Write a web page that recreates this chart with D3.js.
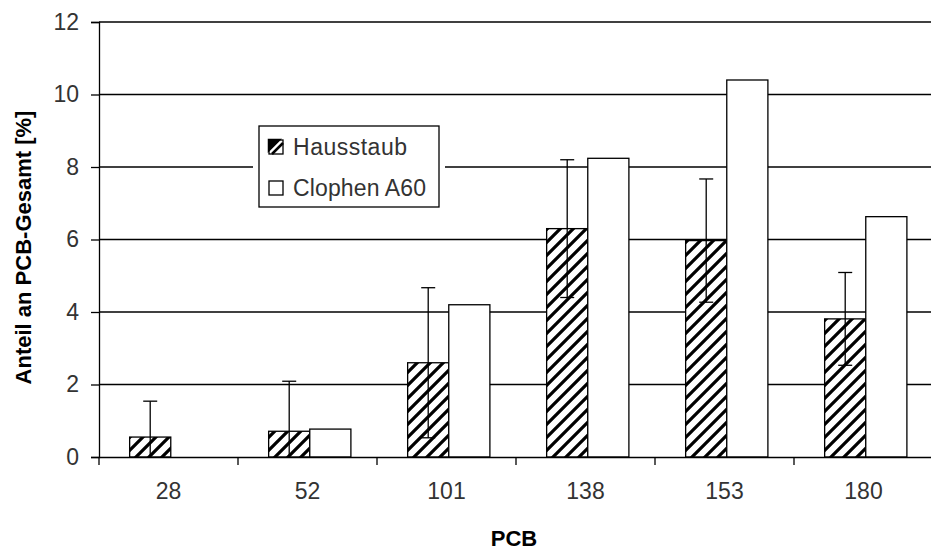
<!DOCTYPE html>
<html>
<head>
<meta charset="utf-8">
<script src="https://cdn.jsdelivr.net/npm/d3@7"></script>
<style>
body { margin: 0; background: #fff; }
svg { display: block; font-family: "Liberation Sans", Arial, sans-serif; }
</style>
</head>
<body>
<div id="canvas"></div>
<script>
// data
var categories = ["28", "52", "101", "138", "153", "180"];
var series_names = ["Hausstaub", "Clophen A60"];
var hausstaub = [0.55, 0.71, 2.6, 6.3, 5.97, 3.81];
var hausstaub_err = [0.99, 1.38, 2.07, 1.9, 1.7, 1.28];
var clophen = [0, 0.77, 4.2, 8.24, 10.4, 6.63];
var y_ticks = [0, 2, 4, 6, 8, 10, 12];

var W = 931, H = 551;
var plot_left = 99, plot_right = 933, plot_top = 22, plot_bottom = 457;

var svg = d3.select("#canvas").append("svg")
  .attr("width", W)
  .attr("height", H);

// hatch pattern
var defs = svg.append("defs");
var pat = defs.append("pattern")
  .attr("id", "hatch")
  .attr("patternUnits", "userSpaceOnUse")
  .attr("width", 13)
  .attr("height", 13);
pat.append("rect").attr("width", 13).attr("height", 13).attr("fill", "#fff");
pat.append("path")
  .attr("d", "M-3,16 L16,-3 M-3,3 L3,-3 M10,16 L16,10")
  .attr("stroke", "#000")
  .attr("stroke-width", 3.2);

// scales
var x = d3.scaleBand().domain(categories).range([plot_left, plot_right]);
var xs = d3.scaleBand().domain(series_names).range([0, x.bandwidth()])
  .paddingInner(0).paddingOuter(0.69).align(0.54);
var y = d3.scaleLinear().domain([0, 12]).range([plot_bottom, plot_top]);

// gridlines
svg.append("g").selectAll("line")
  .data(y_ticks.filter(d => d > 0))
  .enter().append("line")
  .attr("x1", plot_left).attr("x2", plot_right)
  .attr("y1", d => y(d)).attr("y2", d => y(d))
  .attr("stroke", "#000")
  .attr("stroke-width", 1.3);

// y axis
var yAxis = svg.append("g")
  .attr("transform", `translate(${plot_left},0)`)
  .call(d3.axisLeft(y).tickValues(y_ticks).tickSize(8).tickPadding(12));
yAxis.select(".domain").attr("stroke", "#000").attr("stroke-width", 1.3);
yAxis.selectAll(".tick line").attr("stroke", "#000").attr("stroke-width", 1.3);
yAxis.selectAll(".tick text")
  .attr("font-size", 23)
  .attr("font-family", "Liberation Sans, Arial, sans-serif")
  .attr("fill", "#333");

// bars
var groups = svg.append("g").selectAll("g")
  .data(categories)
  .enter().append("g")
  .attr("transform", d => `translate(${x(d)},0)`);

groups.append("rect")
  .attr("x", xs("Hausstaub"))
  .attr("y", (d, i) => y(hausstaub[i]))
  .attr("width", xs.bandwidth())
  .attr("height", (d, i) => y(0) - y(hausstaub[i]))
  .attr("fill", "url(#hatch)")
  .attr("stroke", "#000")
  .attr("stroke-width", 1.3);

groups.filter((d, i) => clophen[i] > 0).append("rect")
  .attr("x", xs("Clophen A60"))
  .attr("y", d => y(clophen[categories.indexOf(d)]))
  .attr("width", xs.bandwidth())
  .attr("height", d => y(0) - y(clophen[categories.indexOf(d)]))
  .attr("fill", "#fff")
  .attr("stroke", "#000")
  .attr("stroke-width", 1.3);

// error bars
var ex = xs("Hausstaub") + xs.bandwidth() / 2;
groups.append("line")
  .attr("x1", ex).attr("x2", ex)
  .attr("y1", (d, i) => y(hausstaub[i] + hausstaub_err[i]))
  .attr("y2", (d, i) => y(Math.max(0, hausstaub[i] - hausstaub_err[i])))
  .attr("stroke", "#000")
  .attr("stroke-width", 1.3);
groups.append("line")
  .attr("x1", ex - 7).attr("x2", ex + 7)
  .attr("y1", (d, i) => y(hausstaub[i] + hausstaub_err[i]))
  .attr("y2", (d, i) => y(hausstaub[i] + hausstaub_err[i]))
  .attr("stroke", "#000")
  .attr("stroke-width", 1.3);
groups.filter((d, i) => hausstaub[i] - hausstaub_err[i] > 0).append("line")
  .attr("x1", ex - 7).attr("x2", ex + 7)
  .attr("y1", d => { var i = categories.indexOf(d); return y(hausstaub[i] - hausstaub_err[i]); })
  .attr("y2", d => { var i = categories.indexOf(d); return y(hausstaub[i] - hausstaub_err[i]); })
  .attr("stroke", "#000")
  .attr("stroke-width", 1.3);

// x axis
var xAxis = svg.append("g")
  .attr("transform", `translate(0,${plot_bottom})`)
  .call(d3.axisBottom(x).tickSize(0).tickPadding(26));
xAxis.select(".domain").attr("stroke", "#000").attr("stroke-width", 1.3);
xAxis.selectAll(".tick text")
  .attr("font-size", 23)
  .attr("font-family", "Liberation Sans, Arial, sans-serif")
  .attr("fill", "#333");
// category boundary ticks
svg.append("g").selectAll("line")
  .data(categories)
  .enter().append("line")
  .attr("x1", d => x(d)).attr("x2", d => x(d))
  .attr("y1", plot_bottom).attr("y2", plot_bottom + 8)
  .attr("stroke", "#000")
  .attr("stroke-width", 1.3);

// axis titles
svg.append("text")
  .attr("transform", `translate(31,${(plot_top + plot_bottom) / 2 + 8}) rotate(-90)`)
  .attr("text-anchor", "middle")
  .attr("font-size", 22)
  .attr("font-weight", "bold")
  .text("Anteil an PCB-Gesamt [%]");

svg.append("text")
  .attr("x", (plot_left + plot_right) / 2 - 2)
  .attr("y", 546)
  .attr("text-anchor", "middle")
  .attr("font-size", 22)
  .attr("font-weight", "bold")
  .text("PCB");

// legend
var legend = svg.append("g");
legend.append("rect")
  .attr("x", 253).attr("y", 121).attr("width", 192).attr("height", 92)
  .attr("fill", "#fff");
legend.append("rect")
  .attr("x", 259).attr("y", 126).attr("width", 180).attr("height", 81)
  .attr("fill", "#fff")
  .attr("stroke", "#000")
  .attr("stroke-width", 1.3);

var legend_item = legend.selectAll("g.item")
  .data(series_names)
  .enter().append("g")
  .attr("class", "item")
  .attr("transform", (d, i) => `translate(269,${140 + i * 41})`);

legend_item.append("rect")
  .attr("width", 14).attr("height", 14)
  .attr("fill", "#fff")
  .attr("stroke", "#000")
  .attr("stroke-width", 1.3);
legend_item.filter((d, i) => i === 0).append("path")
  .attr("d", "M0,0 L10,0 L0,10 Z M14,3 L3,14")
  .attr("fill", "#000")
  .attr("stroke", "#000")
  .attr("stroke-width", 2.5);

legend_item.append("text")
  .attr("x", 24)
  .attr("y", 15)
  .attr("font-size", 23)
  .attr("fill", "#333")
  .attr("textLength", (d, i) => i === 0 ? 114 : 133)
  .attr("lengthAdjust", "spacing")
  .text(d => d);
</script>
</body>
</html>
